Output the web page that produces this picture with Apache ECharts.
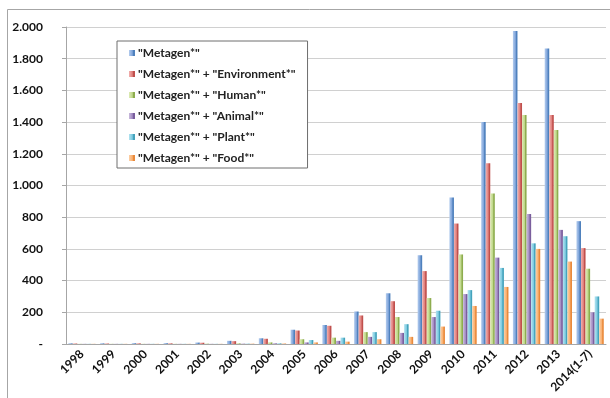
<!DOCTYPE html>
<html>
<head>
<meta charset="utf-8">
<script src="https://cdn.jsdelivr.net/npm/echarts@6/dist/echarts.min.js"></script>
<style>
  html, body { margin: 0; padding: 0; background: #fff; }
  #chart { width: 610px; height: 398px; }
</style>
</head>
<body>
<div id="chart"></div>
<script>
// Publication counts per year for metagenomics search terms
const years = ['1998', '1999', '2000', '2001', '2002', '2003', '2004', '2005', '2006',
  '2007', '2008', '2009', '2010', '2011', '2012', '2013', '2014(1-7)'];

const seriesNames = ['"Metagen*"', '"Metagen*" + "Environment*"', '"Metagen*" + "Human*"',
  '"Metagen*" + "Animal*"', '"Metagen*" + "Plant*"', '"Metagen*" + "Food*"'];

const metagen     = [4, 4, 5, 5, 9, 20, 36, 90, 120, 205, 320, 560, 925, 1400, 1975, 1865, 775];
const environment = [3, 3, 4, 4, 8, 18, 33, 85, 115, 180, 270, 460, 760, 1140, 1520, 1445, 605];
const human       = [1, 1, 1, 1, 2, 4, 10, 30, 40, 75, 170, 290, 565, 950, 1445, 1350, 475];
const animal      = [1, 1, 1, 1, 1, 2, 4, 10, 20, 45, 70, 170, 315, 545, 820, 720, 200];
const plant       = [1, 1, 1, 1, 1, 2, 4, 25, 40, 75, 125, 210, 340, 480, 635, 680, 300];
const food        = [1, 1, 1, 1, 1, 2, 3, 10, 15, 30, 45, 110, 240, 360, 600, 520, 160];

const yTicks = [0, 200, 400, 600, 800, 1000, 1200, 1400, 1600, 1800, 2000];

// light face / mid / dark edge for each series
const palette = [
  ['#B3CCEE', '#7FA4DA', '#4F81BD'],
  ['#F2B0AE', '#DF7F7C', '#C0504D'],
  ['#DDEBB5', '#BFD78A', '#8EAD4F'],
  ['#C9BADC', '#A28BC2', '#7A5E9D'],
  ['#B2E3F0', '#7DCAE0', '#45A3BC'],
  ['#FCCFA6', '#F9B070', '#E98A3C']
];

const allData = [metagen, environment, human, animal, plant, food];

function grad(c) {
  return new echarts.graphic.LinearGradient(0, 0, 1, 0, [
    { offset: 0, color: c[0] },
    { offset: 0.55, color: c[1] },
    { offset: 0.75, color: c[2] },
    { offset: 1, color: c[2] }
  ]);
}

const font = 'Lato, "Liberation Sans", sans-serif';

const chart = echarts.init(document.getElementById('chart'), null, { renderer: 'canvas' });

chart.setOption({
  animation: false,
  backgroundColor: '#fff',
  graphic: [{
    type: 'rect',
    shape: { x: 7.5, y: 9.5, width: 700, height: 500 },
    style: { fill: 'none', stroke: '#A6A6A6', lineWidth: 1 },
    silent: true
  }],
  grid: { left: 66, right: 4, top: 27, bottom: 54 },
  legend: {
    orient: 'vertical',
    left: 117,
    top: 41,
    padding: [6, 12, 4, 12],
    backgroundColor: '#fff',
    borderColor: '#6E6E6E',
    borderWidth: 1,
    itemWidth: 6,
    itemHeight: 6,
    itemGap: 9,
    icon: 'rect',
    textStyle: { fontFamily: font, fontWeight: 'bold', fontSize: 12, color: '#222', padding: [0, 0, 0, -2] },
    data: seriesNames
  },
  xAxis: {
    type: 'category',
    data: years,
    axisLine: { lineStyle: { color: '#A6A6A6' } },
    axisTick: { length: 5, lineStyle: { color: '#A6A6A6' } },
    axisLabel: {
      rotate: 45,
      interval: 0,
      margin: 8,
      fontFamily: font,
      fontWeight: 'bold',
      fontSize: 12,
      color: '#111'
    }
  },
  yAxis: {
    type: 'value',
    min: yTicks[0],
    max: yTicks[yTicks.length - 1],
    interval: 200,
    axisLine: { show: true, lineStyle: { color: '#A6A6A6' } },
    axisTick: { show: true, length: 4, lineStyle: { color: '#A6A6A6' } },
    splitLine: { lineStyle: { color: '#D0D0D0' } },
    axisLabel: {
      margin: 23,
      fontFamily: font,
      fontWeight: 'bold',
      fontSize: 12,
      color: '#111',
      formatter: v => v === 0 ? '-' : (v >= 1000 ? Math.floor(v / 1000) + '.' + String(v % 1000).padStart(3, '0') : String(v))
    }
  },
  series: seriesNames.map((name, i) => ({
    name: name,
    type: 'bar',
    data: allData[i],
    barGap: '0%',
    barCategoryGap: '14%',
    itemStyle: { color: grad(palette[i]) }
  }))
});
</script>
</body>
</html>
